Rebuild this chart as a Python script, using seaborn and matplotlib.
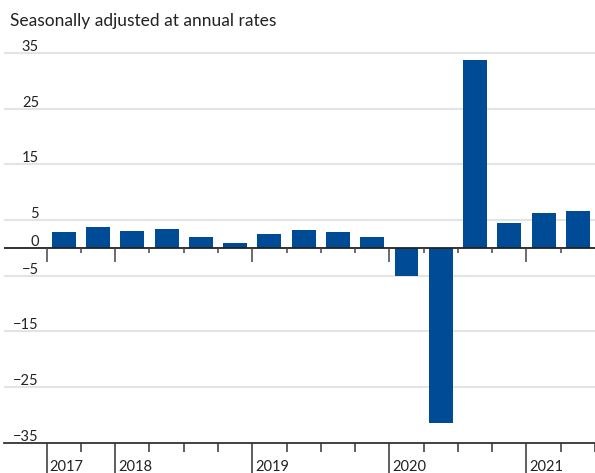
import matplotlib
matplotlib.use("Agg")
import matplotlib.pyplot as plt
import matplotlib.transforms as mtransforms
import numpy as np
import pandas as pd
import seaborn as sns

# Quarterly real GDP growth, percent change, seasonally adjusted at annual rates
quarters = ["2017Q3", "2017Q4",
            "2018Q1", "2018Q2", "2018Q3", "2018Q4",
            "2019Q1", "2019Q2", "2019Q3", "2019Q4",
            "2020Q1", "2020Q2", "2020Q3", "2020Q4",
            "2021Q1", "2021Q2"]
growth = [2.9, 3.8, 3.1, 3.4, 1.9, 0.9, 2.4, 3.2, 2.8, 1.9,
          -5.1, -31.4, 33.8, 4.5, 6.3, 6.7]
year_labels = ["2017", "2018", "2019", "2020", "2021"]
quarters_per_year = [2, 4, 4, 4, 2]
y_label_values = [35, 25, 15, 5, 0, -5, -15, -25, -35]
grid_values = [35, 25, 15, 5, -5, -15, -25]

BLUE = "#004b96"
INK = "#222222"

sns.set_theme(style="white")
plt.rcParams["font.family"] = ["Lato", "DejaVu Sans"]

W, H = 595, 473
fig = plt.figure(figsize=(W / 100, H / 100), dpi=100)

# axes placed in pixel terms
left_px, right_px = 4, 595
top_px, bottom_px = 50.2, 442.7
ax = fig.add_axes([left_px / W, 1 - bottom_px / H,
                   (right_px - left_px) / W, (bottom_px - top_px) / H])

df = pd.DataFrame({"quarter": quarters, "growth": growth})
sns.barplot(data=df, x="quarter", y="growth", order=quarters, color=BLUE,
            saturation=1, width=0.7, linewidth=0, ax=ax, zorder=2)

ax.set_xlim(-1.744, 15.436)
ax.set_ylim(-35, 35.5)
ax.set_xlabel("")
ax.set_ylabel("")

for s in ["top", "right", "left"]:
    ax.spines[s].set_visible(False)
ax.spines["bottom"].set_color("#333333")
ax.spines["bottom"].set_linewidth(1.3)

# light horizontal gridlines
for g in grid_values:
    ax.axhline(g, color="#e4e4e4", lw=1.5, zorder=1)
ax.axhline(0, color=INK, lw=1.3, zorder=3)

# y value labels sitting just above their lines
ylab_tr = mtransforms.offset_copy(ax.get_yaxis_transform(), fig=fig,
                                  x=0, y=2, units="dots")
ax.set_yticks([])
for v in y_label_values:
    txt = str(v).replace("-", "\u2212")
    ax.text(0.0592, v, txt, ha="right", va="baseline", fontsize=10.5,
            color=INK, transform=ylab_tr)

# quarter boundaries, with year boundaries marked more strongly
bounds = np.arange(len(quarters) + 1) - 0.5
year_starts = np.concatenate([[0], np.cumsum(quarters_per_year)[:-1]]) - 0.5
minor_bounds = [b for b in bounds if b not in set(year_starts)]

ax.set_xticks(year_starts)
ax.set_xticklabels([])
ax.set_xticks(minor_bounds, minor=True)
ax.tick_params(axis="x", which="major", direction="out", length=21.5,
               width=1.1, color="#333333", bottom=True)
ax.tick_params(axis="x", which="minor", direction="out", length=6.5,
               width=1.1, color="#333333", bottom=True)

# hanging ticks along the zero line
px_per_unit = (bottom_px - top_px) / 70.5
zero_tr = ax.transData
ax.vlines(year_starts, -14.5 / px_per_unit, 0, color="#444444", lw=1.1,
          zorder=3)
ax.vlines([b for b in minor_bounds if b < len(quarters) - 0.5],
          -5 / px_per_unit, 0, color="#444444", lw=1.1, zorder=3)

# year labels just right of each year boundary
year_tr = mtransforms.blended_transform_factory(ax.transData, fig.transFigure)
year_tr = mtransforms.offset_copy(year_tr, fig=fig, x=3, y=0, units="dots")
for xs, lab in zip(year_starts, year_labels):
    ax.text(xs, 1 - 470.5 / H, lab, ha="left", va="baseline", fontsize=10.5,
            color=INK, transform=year_tr)

fig.text(10 / W, 1 - 25.5 / H, "Seasonally adjusted at annual rates",
         ha="left", va="baseline", fontsize=12.5, color=INK)

fig.savefig("out.png", dpi=100)
